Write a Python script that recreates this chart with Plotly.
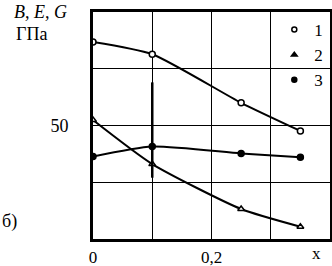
import plotly.graph_objects as go

x_vals = [0, 0.1, 0.25, 0.35]
s1 = [86.8, 81.4, 60.0, 47.6]
s2 = [52.4, 33.0, 13.2, 5.4]
s3 = [36.3, 40.7, 37.7, 36.0]
bar_x = [0.1, 0.1]
bar_y = [27, 69]
names = ["1", "2", "3"]
x_ticks = [0, 0.1, 0.2, 0.3]
x_ticktext = ["0", "", "0,2", ""]
y_ticks = [25, 50, 75]
y_ticktext = ["", "50", ""]

FONT = "Liberation Serif, Times New Roman, serif"
fig = go.Figure()

symbols = ["circle", "triangle-up", "circle"]
fills = ["white", "white", "black"]
for ys, sym, fc in zip([s1, s2, s3], symbols, fills):
    fig.add_trace(go.Scatter(
        x=x_vals, y=ys, mode="lines+markers", showlegend=False,
        line=dict(color="black", width=2, shape="spline", smoothing=0.6),
        marker=dict(symbol=sym, size=6, color=fc, line=dict(color="black", width=1.5)),
    ))

fig.add_trace(go.Scatter(x=bar_x, y=bar_y, mode="lines", showlegend=False,
                         line=dict(color="black", width=2.5)))

for sym, fc, nm in zip(["circle", "triangle-up", "circle"], ["white", "black", "black"], names):
    fig.add_trace(go.Scatter(
        x=[None], y=[None], mode="markers", name=nm,
        marker=dict(symbol=sym, size=5, color=fc, line=dict(color="black", width=1.5)),
    ))

fig.update_layout(
    width=332, height=266,
    margin=dict(l=93, r=2, t=12, b=27, autoexpand=False),
    paper_bgcolor="white", plot_bgcolor="white",
    font=dict(family=FONT, size=18, color="black"),
    showlegend=True,
    legend=dict(x=0.765, y=1.0, xanchor="left", yanchor="top",
                bgcolor="rgba(0,0,0,0)", font=dict(size=17), itemwidth=30,
                tracegroupgap=0),
    xaxis=dict(range=[0, 0.4], tickvals=x_ticks, ticktext=x_ticktext,
               showgrid=True, gridcolor="black", gridwidth=1,
               showline=True, linecolor="black", linewidth=3, mirror=True,
               ticks="", zeroline=False, ticklabelstandoff=1, automargin=False,
               tickfont=dict(size=17)),
    yaxis=dict(range=[0, 100], tickvals=y_ticks, ticktext=y_ticktext,
               showgrid=True, gridcolor="black", gridwidth=1,
               showline=True, linecolor="black", linewidth=3, mirror=True,
               ticks="", zeroline=False, ticklabelstandoff=18, automargin=False),
    annotations=[
        dict(text="<i>B, E, G</i>", x=12, y=0, xanchor="left", yanchor="top",
             showarrow=False, font=dict(size=18)),
        dict(text="ГПа", x=14, y=22, xanchor="left", yanchor="top",
             showarrow=False, font=dict(size=18)),
        dict(text="б)", x=0, y=221, xanchor="left", yanchor="middle",
             showarrow=False, font=dict(size=18)),
        dict(text="x", x=316, y=253, xanchor="center", yanchor="middle",
             showarrow=False, font=dict(size=17)),
    ],
)

# convert pixel-placed annotations to paper coordinates
pw, ph = 332 - 93 - 2, 266 - 12 - 27
for a in fig.layout.annotations:
    px, py = a.x, a.y
    a.xref = "paper"; a.yref = "paper"
    a.x = (px - 93) / pw
    a.y = 1 - (py - 12) / ph

fig.write_html("out.html", config={"displayModeBar": False},
               post_script="document.body.style.margin='0';document.body.style.overflow='hidden';")
